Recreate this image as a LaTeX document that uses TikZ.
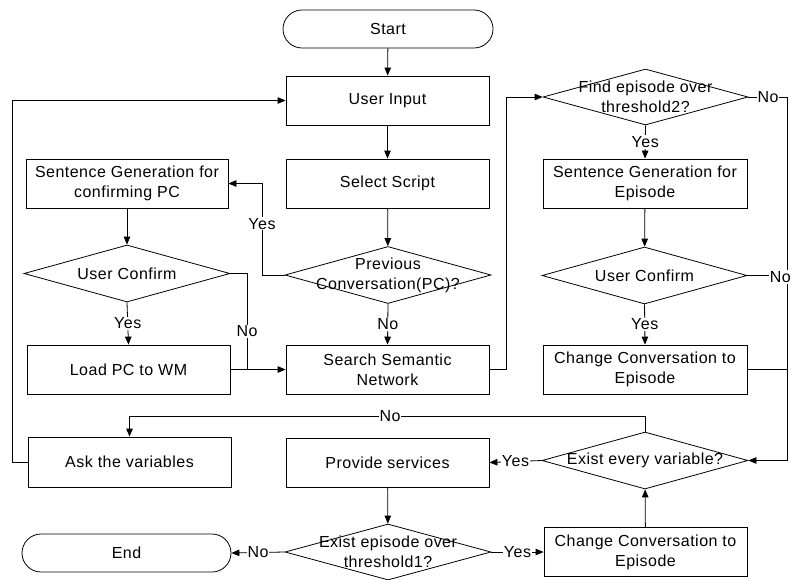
\documentclass[tikz,border=0pt]{standalone}
\usepackage{fontspec}
\setmainfont[LetterSpace=3]{Liberation Sans}
\usetikzlibrary{shapes.geometric,shapes.misc,arrows.meta}
\begin{document}
\begin{tikzpicture}[x=1pt,y=-1pt,
  every node/.style={font=\fontsize{16}{20}\selectfont},
  box/.style={draw, line width=0.8pt, rectangle, minimum width=203pt, minimum height=49pt, inner sep=0pt, align=center},
  term/.style={draw, line width=0.8pt, rounded rectangle, minimum width=210pt, minimum height=38pt, inner sep=0pt},
  dia/.style={draw, line width=0.8pt, diamond, inner sep=0pt, minimum width=206pt, minimum height=57pt, aspect=3.6},
  lbl/.style={fill=white, inner sep=1pt},
  ln/.style={line width=0.8pt},
  arr/.style={line width=0.8pt, -{Triangle[length=8pt,width=6.5pt]}}
]
\useasboundingbox (0,0) rectangle (792,579);
% nodes
\node[term] (start) at (388,29) {Start};
\node[box] (input) at (387.5,100.5) {User Input};
\node[box] (script) at (387.5,183.5) {Select Script};
\node[box, minimum width=202pt] (sgpc) at (127,183.5) {Sentence Generation for\\confirming PC};
\node[dia] (ucL) at (127,273.5) {};
\node at (ucL.center) (ucLt) {User Confirm};
\node[dia] (pc) at (388,275) {};
\node[align=center] at (pc.center) (pct) {Previous\\Conversation(PC)?};
\node[box] (load) at (128.5,369.5) {Load PC to WM};
\node[box] (search) at (387.5,369.5) {Search Semantic\\Network};
\node[dia, minimum width=205pt, minimum height=56pt] (find) at (645.5,97) {};
\node[align=center] at (find.center) (findt) {Find episode over\\threshold2?};
\node[box, minimum width=204pt] (sgep) at (645,183.5) {Sentence Generation for\\Episode};
\node[dia, minimum width=205pt] (ucR) at (644.5,275.5) {};
\node at (ucR.center) (ucRt) {User Confirm};
\node[box, minimum width=204pt] (chg1) at (645,369.5) {Change Conversation to\\Episode};
\node[box, minimum height=50pt] (ask) at (129.5,462) {Ask the variables};
\node[box] (prov) at (387.5,462.5) {Provide services};
\node[dia] (every) at (645,460.5) {};
\node at (every.center) (everyt) {Exist every variable?};
\node[dia, minimum height=56pt] (thr1) at (388,552) {};
\node[align=center] at (thr1.center) (thr1t) {Exist episode over\\threshold1?};
\node[term, minimum width=209pt] (end) at (126.5,553) {End};
\node[box] (chg2) at (645.5,552) {Change Conversation to\\Episode};
% helper coordinates
\coordinate (pcYes) at (262,275);
\coordinate (ucNo) at (247,273.5);
\coordinate (join) at (247,369.5);
\coordinate (sr) at (506,369.5);
\coordinate (rr) at (787,97);
\coordinate (rb) at (787,460.5);
\coordinate (rm) at (787,275.5);
\coordinate (rc) at (787,369.5);
\coordinate (top) at (645,416);
\coordinate (lb) at (12,462);
% connectors
\draw[arr] (start) -- (input);
\draw[arr] (input) -- (script);
\draw[arr] (script) -- (pc);
\draw[arr] (pc.west) -- (pcYes) |- (sgpc.east) node[lbl, pos=0.28] (yes1) {Yes};
\draw[arr] (pc.south) -- (search.north) node[lbl, midway] (no1) {No};
\draw[arr] (sgpc) -- (ucL);
\draw[arr] (ucL.south) -- (load.north) node[lbl, midway] (yes2) {Yes};
\draw[ln] (ucL.east) -- (ucNo) -- (join) node[lbl, pos=0.6] (no2) {No};
\draw[arr] (load.east) -- (search.west);
\draw[arr] (search.east) -- (sr) |- (find.west);
\draw[arr] (find.east) -- (rr) -- (rb) -- (every.east);
\node[lbl] at (768,97) (no3) {No};
\draw[arr] (find.south) -- (sgep.north) node[lbl, midway] (yes3) {Yes};
\draw[arr] (sgep) -- (ucR);
\draw[arr] (ucR.south) -- (chg1.north) node[lbl, midway] (yes4) {Yes};
\draw[ln] (ucR.east) -- (rm);
\node[lbl, anchor=east] at (792,277) (no4) {No};
\draw[ln] (chg1.east) -- (rc);
\draw[arr] (every.north) -- (top) -| (ask.north);
\node[lbl] at (390,416) (no5) {No};
\draw[arr] (ask.west) -- (lb) |- (input.west);
\draw[arr] (every.west) -- (prov.east) node[lbl, midway] (yes5) {Yes};
\draw[arr] (prov) -- (thr1);
\draw[arr] (thr1.west) -- (end.east) node[lbl, midway] (no6) {No};
\draw[arr] (thr1.east) -- (chg2.west) node[lbl, midway] (yes6) {Yes};
\draw[arr] (chg2) -- (every);
\end{tikzpicture}
\end{document}
